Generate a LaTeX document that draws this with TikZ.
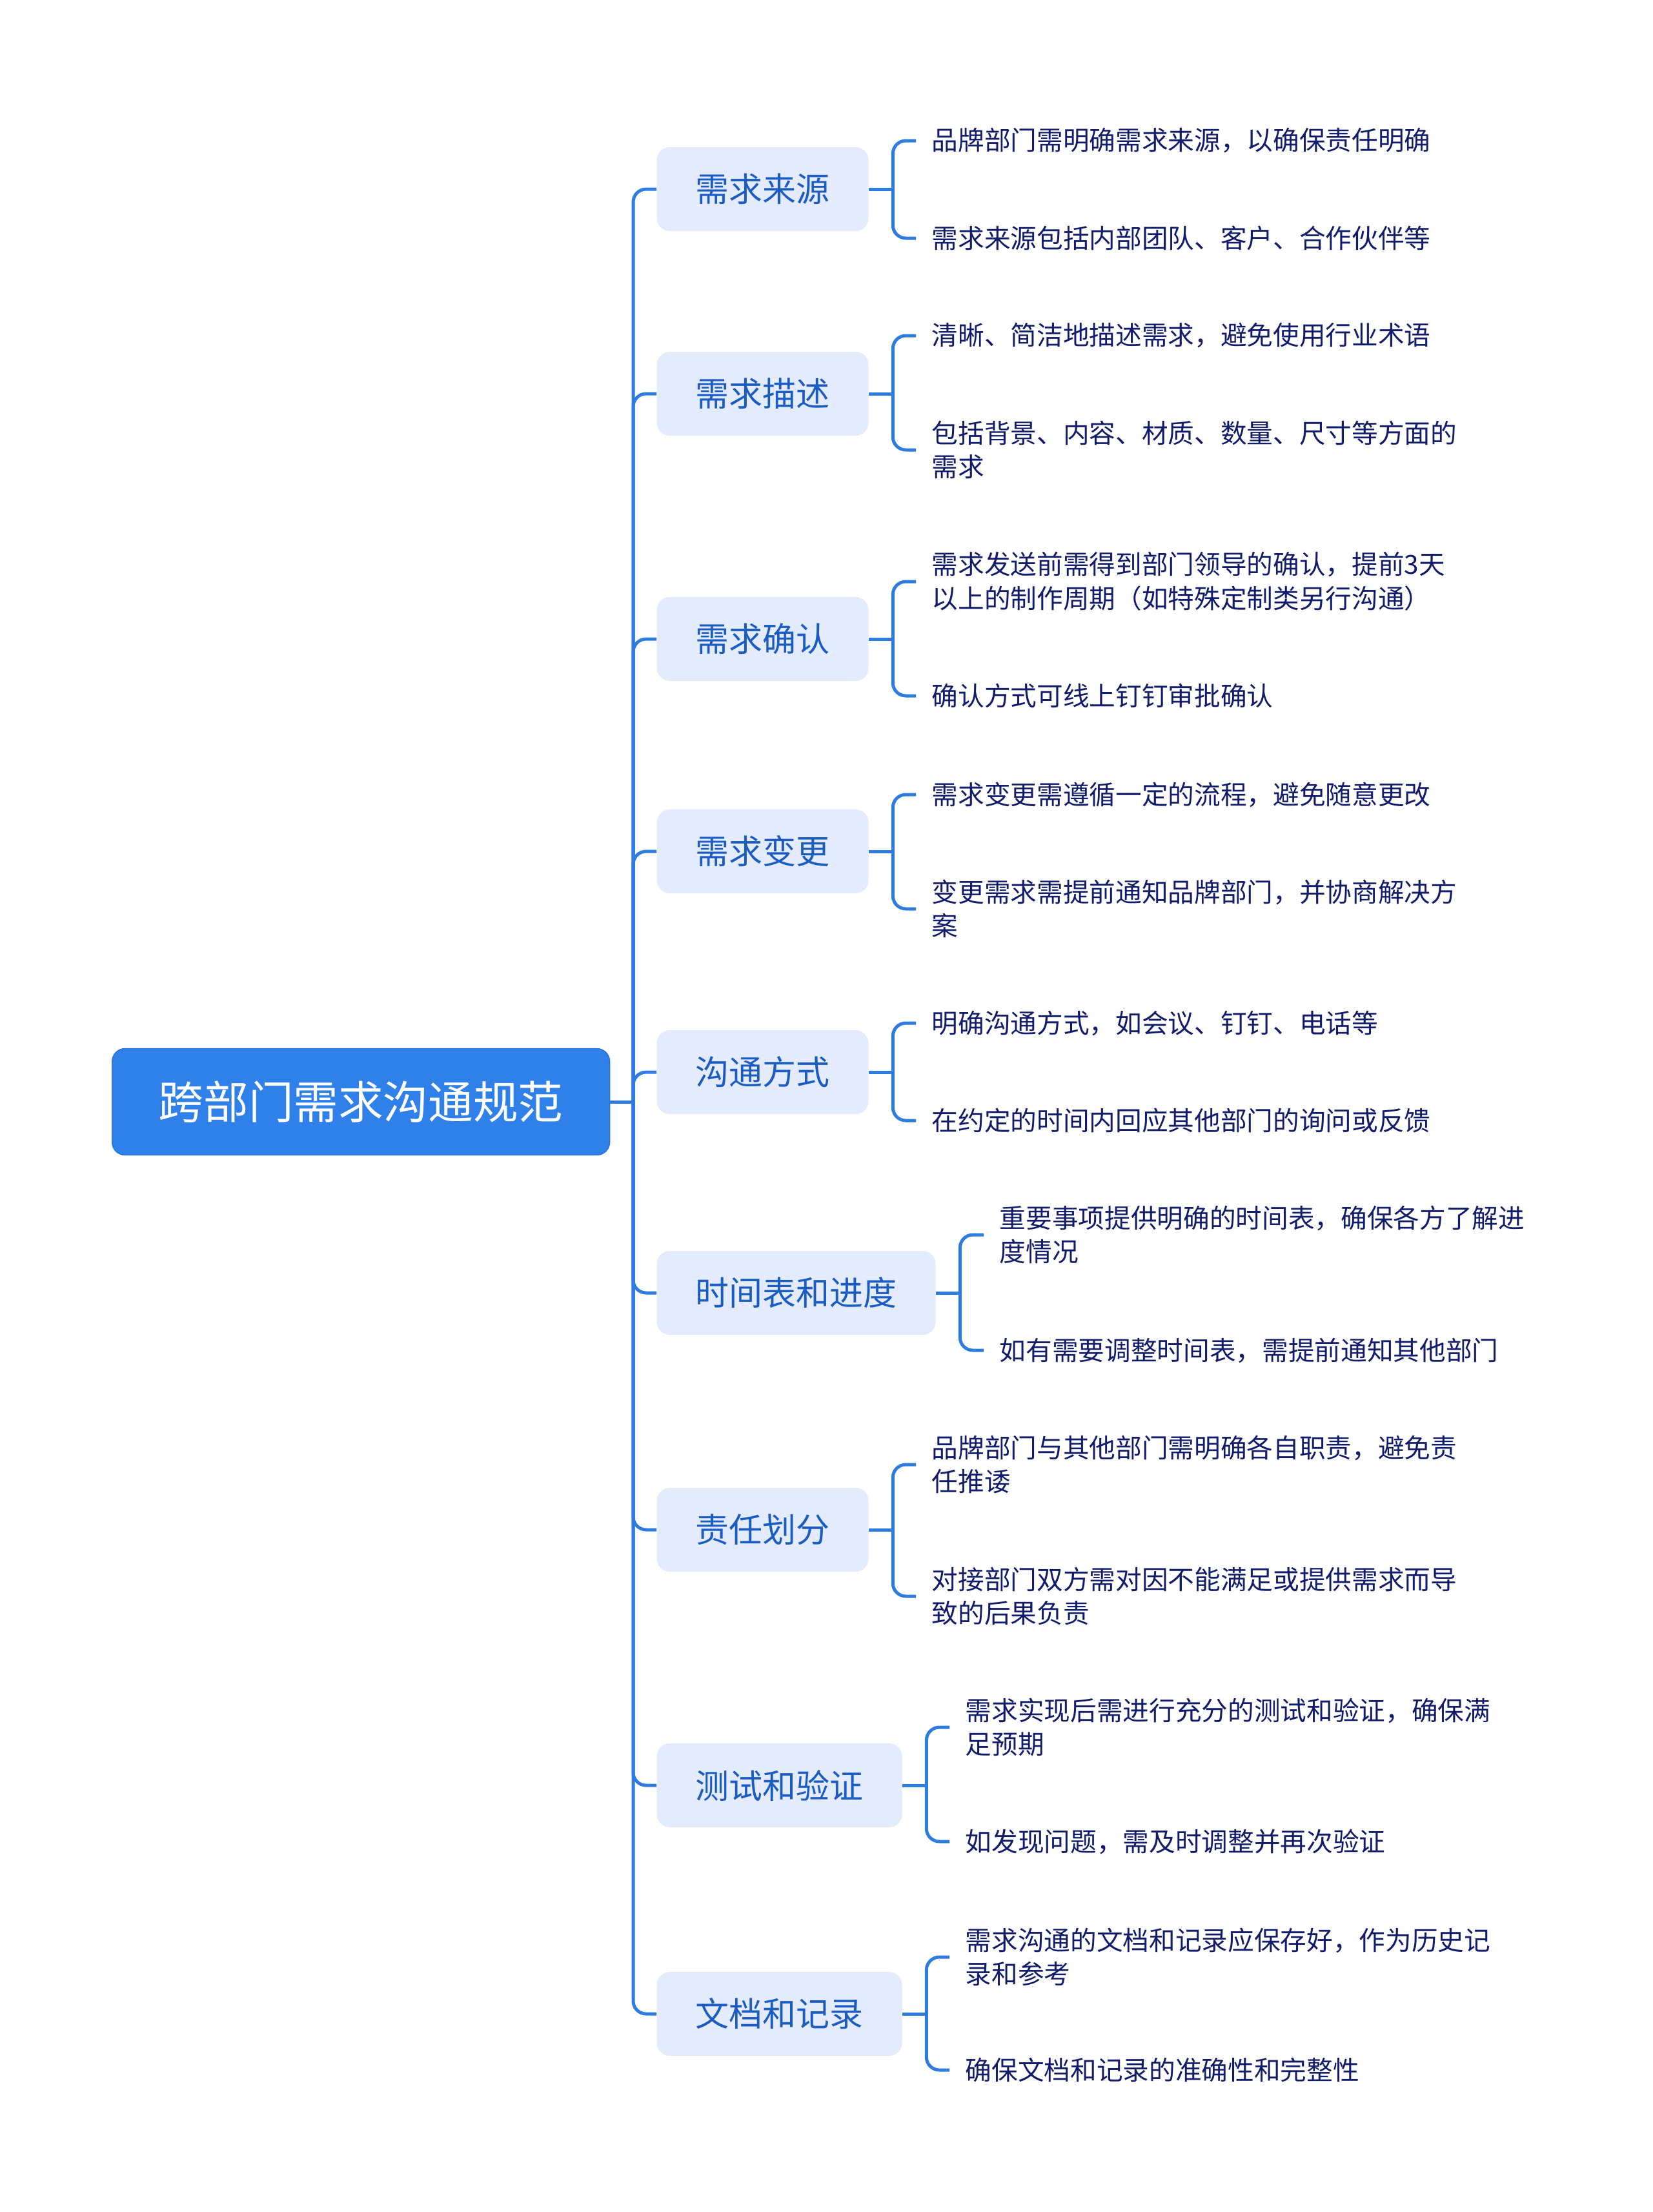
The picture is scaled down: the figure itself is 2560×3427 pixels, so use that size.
\documentclass[tikz,border=0pt]{standalone}
\usepackage{fontspec}
\setmainfont{Noto Sans CJK SC}
\definecolor{conn}{HTML}{2F7CE0}
\definecolor{rootfill}{HTML}{2F80E8}
\definecolor{rootedge}{HTML}{2A72D2}
\definecolor{lonefill}{HTML}{E3EBFC}
\definecolor{lonetext}{HTML}{1A5CC2}
\definecolor{leaftext}{HTML}{111C6B}
\begin{document}
\begin{tikzpicture}[x=0.3pt,y=-0.3pt,
  rootbox/.style={anchor=west, fill=rootfill, draw=rootedge, line width=0.4pt, rounded corners=6pt,
    minimum width=231.3pt, minimum height=49.5pt, inner sep=0pt, text=white,
    font=\fontsize{20.9pt}{25pt}\selectfont},
  lone/.style={anchor=west, fill=lonefill, rounded corners=6pt, minimum height=39pt,
    inner sep=0pt, text=lonetext, font=\fontsize{15.6pt}{19pt}\selectfont},
  w4/.style={minimum width=98.4pt},
  w5/.style={minimum width=114pt},
  w6/.style={minimum width=129.6pt},
  leaf/.style={anchor=west, align=left, inner sep=0pt, text=leaftext,
    font=\fontsize{12.2pt}{15.75pt}\selectfont},
  conline/.style={draw=conn, line width=1.5pt},
  curved/.style={conline, rounded corners=6pt}
]
\useasboundingbox (0,0) rectangle (2560,3427);

% root
\node[rootbox] (root) at (173,1707) {跨部门需求沟通规范};
\coordinate (J) at (981,1707);
\draw[conline] (root.east) -- (J);

% level-1 nodes
\node[lone,w4] (n1) at (1017,293)  {需求来源};
\node[lone,w4] (n2) at (1017,610)  {需求描述};
\node[lone,w4] (n3) at (1017,990)  {需求确认};
\node[lone,w4] (n4) at (1017,1319) {需求变更};
\node[lone,w4] (n5) at (1017,1661) {沟通方式};
\node[lone,w6] (n6) at (1017,2003) {时间表和进度};
\node[lone,w4] (n7) at (1017,2370) {责任划分};
\node[lone,w5] (n8) at (1017,2766) {测试和验证};
\node[lone,w5] (n9) at (1017,3120) {文档和记录};

\foreach \n in {n1,n2,n3,n4,n5,n6,n7,n8,n9}{
  \draw[curved] (J) |- (\n.west);
}

% leaves
\node[leaf] (c1a) at (1443,218)  {品牌部门需明确需求来源，以确保责任明确};
\node[leaf] (c1b) at (1443,369)  {需求来源包括内部团队、客户、合作伙伴等};
\node[leaf] (c2a) at (1443,520)  {清晰、简洁地描述需求，避免使用行业术语};
\node[leaf] (c2b) at (1443,697)  {包括背景、内容、材质、数量、尺寸等方面的\\需求};
\node[leaf] (c3a) at (1443,901)  {需求发送前需得到部门领导的确认，提前3天\\以上的制作周期（如特殊定制类另行沟通）};
\node[leaf] (c3b) at (1443,1078) {确认方式可线上钉钉审批确认};
\node[leaf] (c4a) at (1443,1231) {需求变更需遵循一定的流程，避免随意更改};
\node[leaf] (c4b) at (1443,1408) {变更需求需提前通知品牌部门，并协商解决方\\案};
\node[leaf] (c5a) at (1443,1585) {明确沟通方式，如会议、钉钉、电话等};
\node[leaf] (c5b) at (1443,1736) {在约定的时间内回应其他部门的询问或反馈};
\node[leaf] (c6a) at (1548,1913) {重要事项提供明确的时间表，确保各方了解进\\度情况};
\node[leaf] (c6b) at (1548,2092) {如有需要调整时间表，需提前通知其他部门};
\node[leaf] (c7a) at (1443,2269) {品牌部门与其他部门需明确各自职责，避免责\\任推诿};
\node[leaf] (c7b) at (1443,2473) {对接部门双方需对因不能满足或提供需求而导\\致的后果负责};
\node[leaf] (c8a) at (1495,2676) {需求实现后需进行充分的测试和验证，确保满\\足预期};
\node[leaf] (c8b) at (1495,2853) {如发现问题，需及时调整并再次验证};
\node[leaf] (c9a) at (1495,3032) {需求沟通的文档和记录应保存好，作为历史记\\录和参考};
\node[leaf] (c9b) at (1495,3207) {确保文档和记录的准确性和完整性};

% brackets
\foreach \n in {1,...,9}{
  \coordinate (B\n) at ([xshift=11.1pt]n\n.east);
  \draw[conline] (n\n.east) -- (B\n);
  \draw[curved] (B\n) |- ([xshift=-7.2pt]c\n a.west);
  \draw[curved] (B\n) |- ([xshift=-7.2pt]c\n b.west);
}
\end{tikzpicture}
\end{document}
